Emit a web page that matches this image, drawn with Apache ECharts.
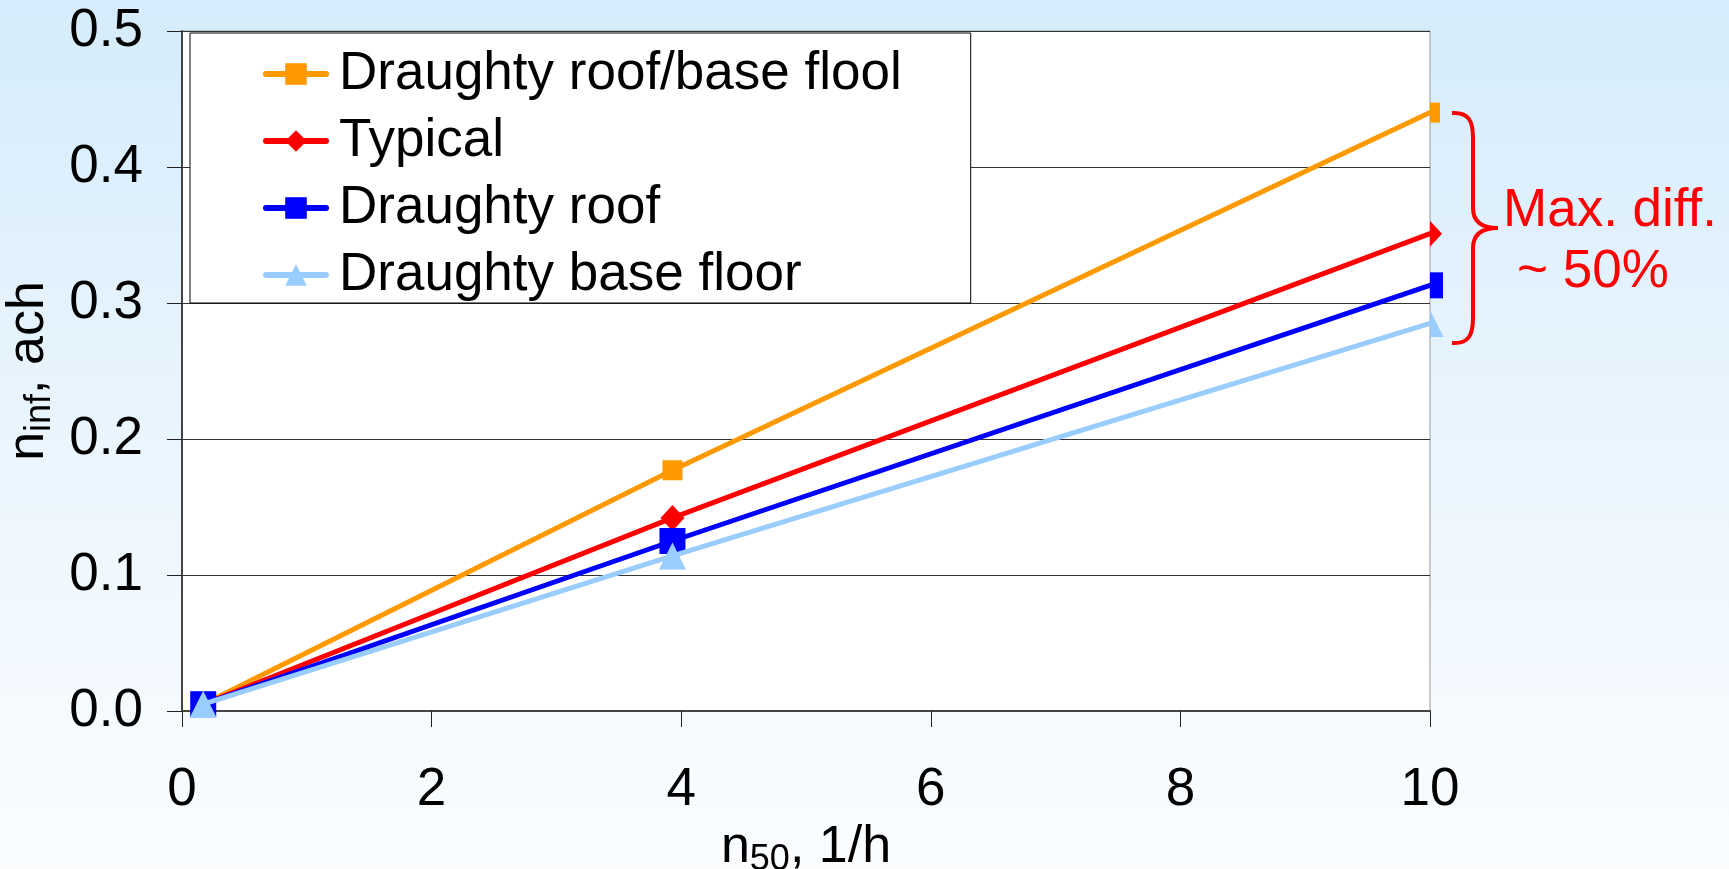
<!DOCTYPE html>
<html><head><meta charset="utf-8">
<script src="https://cdn.jsdelivr.net/npm/echarts@6/dist/echarts.min.js"></script>
<style>html,body{margin:0;padding:0;overflow:hidden;}#c{width:1729px;height:869px;}</style>
</head><body><div id="c"></div>
<script>
// ---- data ----
const xValues = [0.17, 3.93, 10];
const seriesNames = ['Draughty roof/base flool', 'Typical', 'Draughty roof', 'Draughty base floor'];
const draughtyRoofBase = [0.005, 0.177, 0.440];
const typical = [0.005, 0.142, 0.351];
const draughtyRoof = [0.005, 0.125, 0.313];
const draughtyBaseFloor = [0.005, 0.114, 0.285];
const xTickLabels = ['0', '2', '4', '6', '8', '10'];
const yTickLabels = ['0.0', '0.1', '0.2', '0.3', '0.4', '0.5'];
const annotationLines = ['Max. diff.', '~ 50%'];

const FONT = '"Liberation Sans", Arial, sans-serif';
const chart = echarts.init(document.getElementById('c'), null, {renderer: 'canvas'});

const styles = [
  {color: '#FF9900', symbol: 'rect', size: [20, 20], half: 'path://M0,0 L1,0 L1,1 L0,1 Z'},
  {color: '#FF0000', symbol: 'diamond', size: [24, 26], half: 'path://M0,0 L1,1 L0,2 Z'},
  {color: '#0000FF', symbol: 'rect', size: [26, 26], half: 'path://M0,0 L1,0 L1,1 L0,1 Z'},
  {color: '#99CCFF', symbol: 'triangle', size: [27, 27], half: 'path://M0,0 L1,2 L0,2 Z'}
];
const allY = [draughtyRoofBase, typical, draughtyRoof, draughtyBaseFloor];

function buildData(ys, st) {
  return xValues.map((x, i) => {
    const item = {value: [x, ys[i]]};
    if (i === xValues.length - 1) {
      item.symbol = st.half;
      item.symbolSize = [st.size[0] / 2, st.size[1]];
      item.symbolOffset = [st.size[0] / 4, 0];
    }
    return item;
  });
}

const series = seriesNames.map((name, k) => ({
  name: name,
  type: 'line',
  data: buildData(allY[k], styles[k]),
  symbol: styles[k].symbol,
  symbolSize: styles[k].size,
  showAllSymbol: true,
  lineStyle: {color: styles[k].color, width: 5, cap: 'round'},
  itemStyle: {color: styles[k].color},
  emphasis: {disabled: true},
  z: 2 + k
}));

const brace = [
  {type: 'bezierCurve', shape: {x1: 1452, y1: 113, cpx1: 1468, cpy1: 112, cpx2: 1473, cpy2: 120, x2: 1473, y2: 138}},
  {type: 'line', shape: {x1: 1473, y1: 138, x2: 1473, y2: 208}},
  {type: 'bezierCurve', shape: {x1: 1473, y1: 208, cpx1: 1473, cpy1: 222, cpx2: 1482, cpy2: 228, x2: 1498, y2: 228}},
  {type: 'bezierCurve', shape: {x1: 1498, y1: 228, cpx1: 1482, cpy1: 228, cpx2: 1473, cpy2: 234, x2: 1473, y2: 248}},
  {type: 'line', shape: {x1: 1473, y1: 248, x2: 1473, y2: 318}},
  {type: 'bezierCurve', shape: {x1: 1473, y1: 318, cpx1: 1473, cpy1: 336, cpx2: 1468, cpy2: 344, x2: 1452, y2: 343}}
].map(e => Object.assign(e, {style: {stroke: '#FF0000', lineWidth: 4, fill: null}, z: 10}));

const option = {
  animation: false,
  backgroundColor: {
    type: 'linear', x: 0, y: 0, x2: 0, y2: 1,
    colorStops: [{offset: 0, color: '#d5ecfc'}, {offset: 0.6, color: '#eef7fe'}, {offset: 1, color: '#fbfdff'}]
  },
  textStyle: {fontFamily: FONT},
  grid: {
    left: 182, top: 31, width: 1248, height: 680,
    containLabel: false, outerBoundsMode: 'none',
    show: true, backgroundColor: '#ffffff', borderColor: '#999999', borderWidth: 1
  },
  legend: {
    orient: 'vertical', left: 190, top: 33,
    padding: [13, 69, 0, 73], itemGap: 11,
    itemWidth: 60, itemHeight: 27,
    backgroundColor: '#ffffff', borderColor: '#000000', borderWidth: 1, borderRadius: 0,
    lineStyle: {width: 6, cap: 'round'},
    textStyle: {fontSize: 53, lineHeight: 56, color: '#000', fontFamily: FONT, padding: [0, 0, 0, 8]},
    selectedMode: false,
    data: seriesNames
  },
  xAxis: {
    type: 'value', min: 0, max: 10, interval: 2,
    name: '{a|n}{b|50}{a|, 1/h}',
    nameLocation: 'middle', nameGap: 106,
    nameTextStyle: {
      rich: {
        a: {fontSize: 52, lineHeight: 60, color: '#000', fontFamily: FONT},
        b: {fontSize: 36, lineHeight: 34, verticalAlign: 'bottom', color: '#000', fontFamily: FONT}
      }
    },
    axisLine: {show: true, lineStyle: {color: '#444', width: 2}},
    axisTick: {show: true, inside: false, length: 16, lineStyle: {color: '#222', width: 1}},
    axisLabel: {fontSize: 53, color: '#000', margin: 53, fontFamily: FONT,
      formatter: v => xTickLabels[Math.round(v / 2)]},
    splitLine: {show: false}
  },
  yAxis: {
    type: 'value', min: 0, max: 0.5, interval: 0.1,
    name: '{a|n}{b|inf}{a|, ach}',
    nameLocation: 'middle', nameGap: 108, nameRotate: 90,
    nameTextStyle: {
      rich: {
        a: {fontSize: 52, lineHeight: 60, color: '#000', fontFamily: FONT},
        b: {fontSize: 36, lineHeight: 34, verticalAlign: 'bottom', color: '#000', fontFamily: FONT}
      }
    },
    axisLine: {show: true, lineStyle: {color: '#444', width: 2}},
    axisTick: {show: true, inside: false, length: 15, lineStyle: {color: '#222', width: 1}},
    axisLabel: {fontSize: 53, color: '#000', margin: 39, fontFamily: FONT,
      formatter: v => yTickLabels[Math.round(v * 10)]},
    splitLine: {show: true, lineStyle: {color: '#333', width: 1}}
  },
  series: series,
  graphic: brace.concat([
    {type: 'text', z: 10, style: {text: annotationLines[0], x: 1503, y: 211, fill: '#FF0000', fontSize: 53, fontFamily: FONT, verticalAlign: 'middle'}},
    {type: 'text', z: 10, style: {text: annotationLines[1], x: 1517, y: 272, fill: '#FF0000', fontSize: 53, fontFamily: FONT, verticalAlign: 'middle'}}
  ])
};
chart.setOption(option);
</script>
</body></html>
